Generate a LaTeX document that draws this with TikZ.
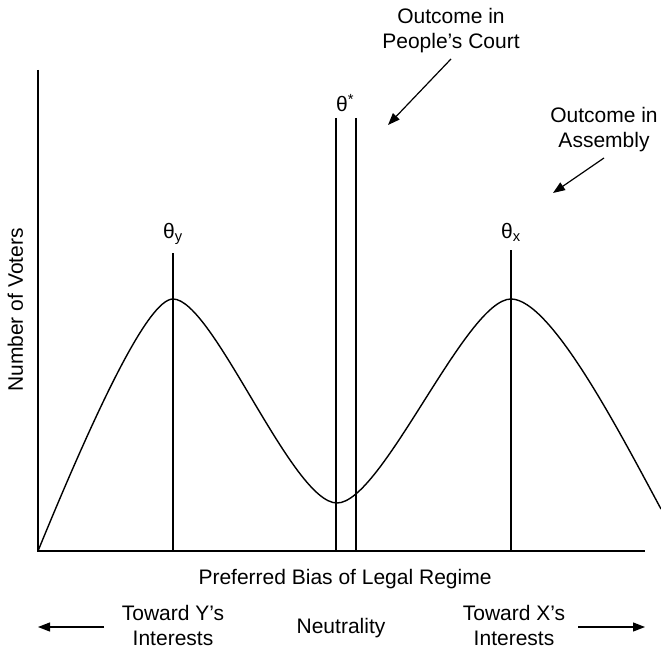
\documentclass[tikz,border=0pt]{standalone}
\usepackage{fontspec}
\setmainfont{Liberation Sans}
\usetikzlibrary{arrows.meta}
\tikzset{
  lbl/.style={font=\fontsize{21}{25}\selectfont, inner sep=0pt, align=center},
  ln/.style={line width=1.4pt},
  pointer/.style={line width=1.2pt, -{Triangle[length=12pt,width=9pt]}},
}

\begin{document}
\begin{tikzpicture}[x=1pt,y=-1pt]
\useasboundingbox (0,0) rectangle (661,650);
% axes
\coordinate (O) at (38,551);
\coordinate (ytop) at (38,70);
\coordinate (xend) at (645,551);
\draw[ln] (ytop) -- (O) -- (xend);
\node[lbl, rotate=90, anchor=base] (ylab) at (23,310) {Number of Voters};
\node[lbl, anchor=base] (xlab) at (345,584) {Preferred Bias of Legal Regime};

% distribution of preferences
\draw[ln] (O) .. controls (95,412) and (148,299) .. (173,299)
  .. controls (213,299) and (292,503) .. (337,503)
  .. controls (382,503) and (466,299) .. (511,299)
  .. controls (551,299) and (620,433) .. (661,509);

% ideal points
\node[lbl, anchor=base] (thetay) at (173,238) {θ\textsubscript{y}};
\node[lbl, anchor=base] (thetax) at (511,238) {θ\textsubscript{x}};
\node[lbl, anchor=base west] (thetas) at (336,112) {θ\textsuperscript{*}};
\draw[ln] ([yshift=-9pt]thetay.south) -- (thetay.south |- O);
\draw[ln] ([yshift=-9pt]thetax.south) -- (thetax.south |- O);
\coordinate (sl) at (336,118);
\coordinate (sr) at (356,118);
\draw[ln] (sl) -- (sl |- O);
\draw[ln] (sr) -- (sr |- O);

% outcomes
\node[lbl, anchor=north] (court) at (451,8) {Outcome in\\People’s Court};
\node[lbl, anchor=north] (assembly) at (604,107) {Outcome in\\Assembly};
\coordinate (courttip) at (388,125);
\coordinate (asstip) at (553,193);
\draw[pointer] ([yshift=-6pt]court.south) -- (courttip);
\draw[pointer] ([yshift=-6pt]assembly.south) -- (asstip);

% direction of bias
\node[lbl, anchor=north] (towardy) at (173,605) {Toward Y’s\\Interests};
\node[lbl, anchor=base] (neutral) at (341,633) {Neutrality};
\node[lbl, anchor=north] (towardx) at (514,605) {Toward X’s\\Interests};
\coordinate (ltail) at (104,627);
\coordinate (ltip) at (38,627);
\coordinate (rtail) at (578,627);
\coordinate (rtip) at (645,627);
\draw[pointer] (ltail) -- (ltip);
\draw[pointer] (rtail) -- (rtip);
\end{tikzpicture}
\end{document}
